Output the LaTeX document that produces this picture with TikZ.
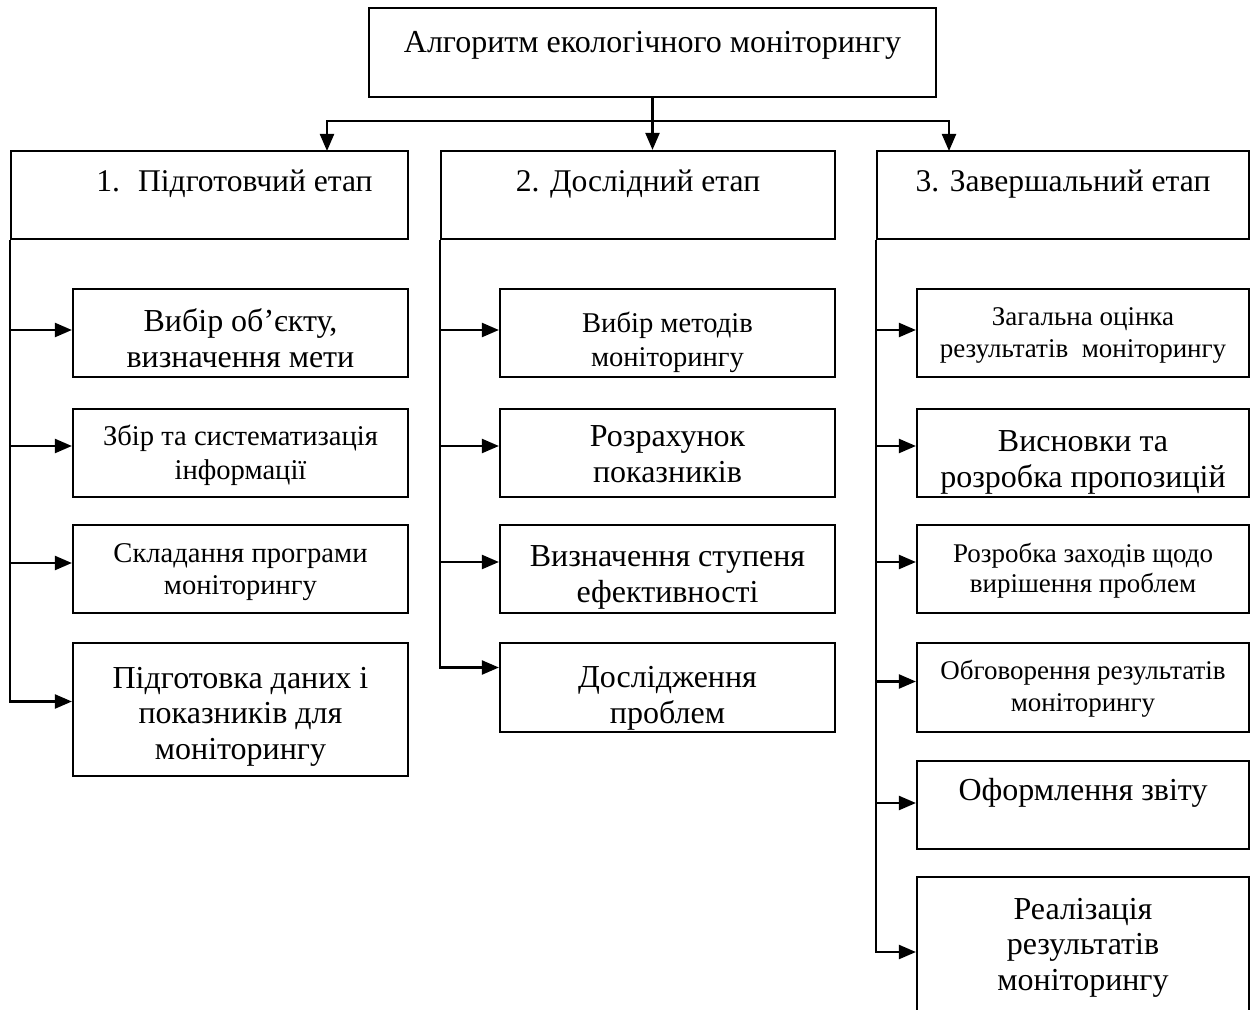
\documentclass[tikz,border=0pt]{standalone}
\usepackage{fontspec}
\setmainfont{Liberation Serif}
\usetikzlibrary{arrows.meta}

\begin{document}
\begin{tikzpicture}[x=0.5pt,y=-0.5pt,
	box/.style={draw, line width=1.1pt, inner sep=0pt, align=center},
	stage/.style={box, minimum height=44pt, text height=10pt, text depth=13pt, font=\fontsize{15.8}{18}\selectfont},
	item/.style={box, minimum height=44pt, font=\fontsize{16}{17.8}\selectfont},
	miditem/.style={item, font=\fontsize{14.3}{17}\selectfont},
	smallitem/.style={item, font=\fontsize{13.5}{16}\selectfont},
	sink/.style={text height=#1, text depth=4pt},
	arr/.style={line width=1.1pt, -{Triangle[length=8.5pt,width=7pt]}}]
	\useasboundingbox (0,0) rectangle (1251,1010);

	% top
	\node[box, minimum width=283.5pt, minimum height=44.5pt, text height=10pt, text depth=10pt, font=\fontsize{16}{19}\selectfont] (algo) at (652.5,52.5) {Алгоритм екологічного моніторингу};

	% stages
	\node[stage, minimum width=198.5pt] (st1) at (209.5,195) {\hspace*{25pt}1.\hspace{9pt}Підготовчий етап};
	\node[stage, minimum width=197pt] (st2) at (638,195) {2. Дослідний етап};
	\node[stage, minimum width=186pt] (st3) at (1063,195) {3. Завершальний етап};

	\coordinate (bus) at (652,121);
	\coordinate (in1) at (327,151);
	\coordinate (in3) at (949,151);
	\draw[arr] (algo.south) -- (algo.south |- st2.north);
	\draw[arr] (bus) -| (in1);
	\draw[arr] (bus) -| (in3);

	% stage 1
	\node[item, sink=38.4pt, minimum width=167.5pt] (a1) at (240.5,333) {Вибір об’єкту,\\визначення мети};
	\node[miditem, sink=30.6pt, minimum width=167.5pt] (a2) at (240.5,453) {Збір та систематизація\\інформації};
	\node[miditem, sink=29.6pt, minimum width=167.5pt, font=\fontsize{14.3}{16}\selectfont] (a3) at (240.5,569) {Складання програми\\моніторингу};
	\node[item, sink=53.9pt, minimum width=167.5pt, minimum height=66.5pt] (a4) at (240.5,709.5) {Підготовка даних і\\показників для\\моніторингу};

	% stage 2
	\node[miditem, sink=37.6pt, minimum width=167.5pt] (b1) at (667.5,333) {Вибір методів\\моніторингу};
	\node[item, sink=33.4pt, minimum width=167.5pt] (b2) at (667.5,453) {Розрахунок\\показників};
	\node[item, sink=37.4pt, minimum width=167.5pt] (b3) at (667.5,569) {Визначення ступеня\\ефективності};
	\node[item, sink=39.9pt, minimum width=167.5pt, minimum height=44.5pt] (b4) at (667.5,687.5) {Дослідження\\проблем};

	% stage 3
	\node[smallitem, sink=28.2pt, minimum width=166pt] (c1) at (1083,333) {Загальна оцінка\\результатів\ \ моніторингу};
	\node[item, sink=38.4pt, minimum width=166pt] (c2) at (1083,453) {Висновки та\\розробка пропозицій};
	\node[smallitem, sink=27.2pt, minimum width=166pt, font=\fontsize{13.5}{15}\selectfont] (c3) at (1083,569) {Розробка заходів щодо\\вирішення проблем};
	\node[smallitem, sink=27.7pt, minimum width=166pt, minimum height=44.5pt] (c4) at (1083,687.5) {Обговорення результатів\\моніторингу};
	\node[item, minimum width=166pt, text height=10pt, text depth=15pt] (c5) at (1083,805) {Оформлення звіту};
	\node[item, sink=49.4pt, minimum width=166pt, minimum height=68pt] (c6) at (1083,945) {Реалізація\\результатів\\моніторингу};

	\foreach \n/\s in {a1/1.5,a2/3.5,a3/3,a4/4}
		\draw[arr] (st1.south west) |- ([yshift=\s pt]\n.west);
	\foreach \n/\s in {b1/1.5,b2/3.5,b3/3.5,b4/10}
		\draw[arr] (st2.south west) |- ([yshift=\s pt]\n.west);
	\foreach \n/\s in {c1/1.5,c2/3.5,c3/3.5,c4/3,c5/1,c6/-3.5}
		\draw[arr] (st3.south west) |- ([yshift=\s pt]\n.west);

\end{tikzpicture}
\end{document}
